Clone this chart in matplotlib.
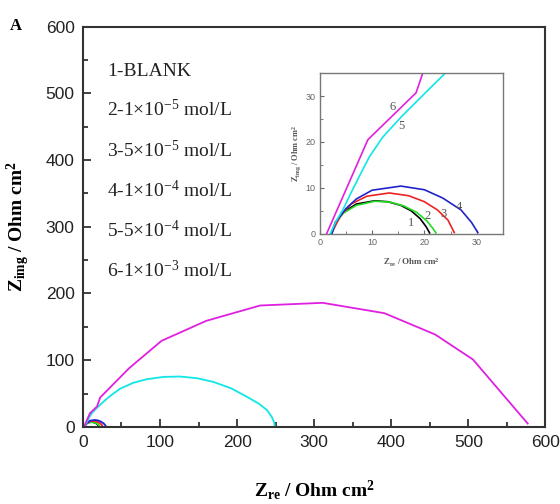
import matplotlib
matplotlib.use("Agg")
import matplotlib.pyplot as plt
from matplotlib.ticker import MultipleLocator

plt.rcParams['font.family'] = ['Liberation Sans', 'DejaVu Sans']
plt.rcParams['mathtext.fontset'] = 'custom'
plt.rcParams['mathtext.rm'] = 'Liberation Serif'
plt.rcParams['mathtext.it'] = 'Liberation Serif:italic'
plt.rcParams['mathtext.bf'] = 'Liberation Serif:bold'

# Nyquist data (Ohm cm2)
x1 = [2.2, 3.0, 4.5, 7.0, 10.5, 13.0, 15.5, 17.5, 19.2, 20.3, 21.0]
y1 = [0.0, 2.5, 4.7, 6.5, 7.2, 7.0, 6.2, 5.0, 3.3, 1.6, 0.2]
x2 = [2.3, 3.0, 4.5, 7.0, 10.5, 13.5, 16.0, 18.5, 20.5, 21.6, 22.2]
y2 = [0.0, 2.3, 4.5, 6.2, 7.1, 6.9, 6.1, 4.7, 2.8, 1.2, 0.2]
x3 = [2.2, 4.0, 6.0, 9.0, 13.3, 17.0, 20.0, 22.5, 24.5, 25.7]
y3 = [0.0, 4.0, 6.5, 8.2, 8.9, 8.3, 7.0, 5.2, 3.0, 0.3]
x4 = [2.3, 3.0, 5.0, 7.0, 10.0, 15.5, 20.0, 23.5, 27.0, 29.0, 30.2]
y4 = [0.0, 2.5, 5.5, 7.6, 9.5, 10.4, 9.6, 7.8, 5.2, 2.5, 0.3]
x5 = [2, 3, 4.4, 6, 8, 9.5, 12, 15.6, 20, 24, 35, 48, 65, 83, 105, 126, 148, 169, 192, 213, 228, 239, 245, 248, 249]
y5 = [0, 2.5, 5.2, 9, 13.5, 16.8, 21, 25.5, 30.5, 35, 46, 57, 66, 71.5, 75, 75.5, 73, 67.5, 58, 45, 35, 25, 15, 7, 1]
x6 = [1.3, 9.2, 18.4, 22.4, 60, 102, 160, 230, 311, 391, 457, 506, 577]
y6 = [0, 20.5, 30.7, 44, 88, 129, 159, 182, 186, 170.5, 138.5, 101, 5]

series = [(x1, y1, 'black'), (x2, y2, '#22dd22'), (x3, y3, '#ee2222'),
          (x4, y4, '#2222cc'), (x5, y5, '#11e6e6'), (x6, y6, '#e020e0')]

legend_lines = ['1-BLANK',
                '2-1\u00d710$^{-5}$ mol/L',
                '3-5\u00d710$^{-5}$ mol/L',
                '4-1\u00d710$^{-4}$ mol/L',
                '5-5\u00d710$^{-4}$ mol/L',
                '6-1\u00d710$^{-3}$ mol/L']
legend_y = [526, 466, 405, 344, 284, 224]

curve_labels = ['1', '2', '3', '4', '5', '6']
curve_lx = [17.4, 20.7, 23.7, 26.6, 15.6, 14.0]
curve_ly = [2.4, 3.9, 4.3, 5.9, 23.5, 27.6]

fig = plt.figure(figsize=(5.6, 5.04), dpi=100)
ax = fig.add_axes([0.148, 0.153, 0.826, 0.794])
for x, y, c in series:
    ax.plot(x, y, color=c, lw=1.3)
ax.set_xlim(0, 600)
ax.set_ylim(0, 600)
ax.xaxis.set_major_locator(MultipleLocator(100))
ax.xaxis.set_minor_locator(MultipleLocator(50))
ax.yaxis.set_major_locator(MultipleLocator(100))
ax.yaxis.set_minor_locator(MultipleLocator(50))
ax.tick_params(which='both', direction='in', colors='#222222', width=1.2)
ax.tick_params(which='major', length=6, labelsize=12.5, pad=6)
ax.tick_params(which='minor', length=3.5)
for s in ax.spines.values():
    s.set_linewidth(1.5)
    s.set_color('#333333')

ax.set_xlabel(r'$\mathbf{Z_{re}\ /\ Ohm\ cm^{2}}$', fontsize=14, labelpad=20)
ax.set_ylabel(r'$\mathbf{Z_{img}\ /\ Ohm\ cm^{2}}$', fontsize=14, labelpad=10)

for t, yy in zip(legend_lines, legend_y):
    ax.text(31.5, yy, t, fontsize=14, family='Liberation Serif', color='#222222', va='baseline')

fig.text(0.018, 0.948, 'A', fontsize=12, family='Liberation Serif', fontweight='bold', va='center')

# inset
ins = fig.add_axes([0.571, 0.536, 0.327, 0.319])
for x, y, c in series:
    ins.plot(x, y, color=c, lw=1.2)
ins.set_xlim(0, 35)
ins.set_ylim(0, 35)
ins.xaxis.set_major_locator(MultipleLocator(10))
ins.xaxis.set_minor_locator(MultipleLocator(5))
ins.yaxis.set_major_locator(MultipleLocator(10))
ins.yaxis.set_minor_locator(MultipleLocator(5))
ins.tick_params(which='both', direction='in', colors='#666666', labelsize=6.5, pad=3)
ins.tick_params(which='major', length=3)
ins.tick_params(which='minor', length=2)
for s in ins.spines.values():
    s.set_linewidth(1.0)
    s.set_color('#777777')
ins.set_xlabel(r'$\mathbf{Z_{re}\ /\ Ohm\ cm^{2}}$', fontsize=6.5, color='#555555', labelpad=7)
ins.set_ylabel(r'$\mathbf{Z_{img}\ /\ Ohm\ cm^{2}}$', fontsize=6, color='#555555', labelpad=2)
for t, lx, ly in zip(curve_labels, curve_lx, curve_ly):
    ins.text(lx, ly, t, fontsize=9, family='Liberation Serif', color='#555555', ha='center', va='center')

fig.savefig('out.png', dpi=100)
